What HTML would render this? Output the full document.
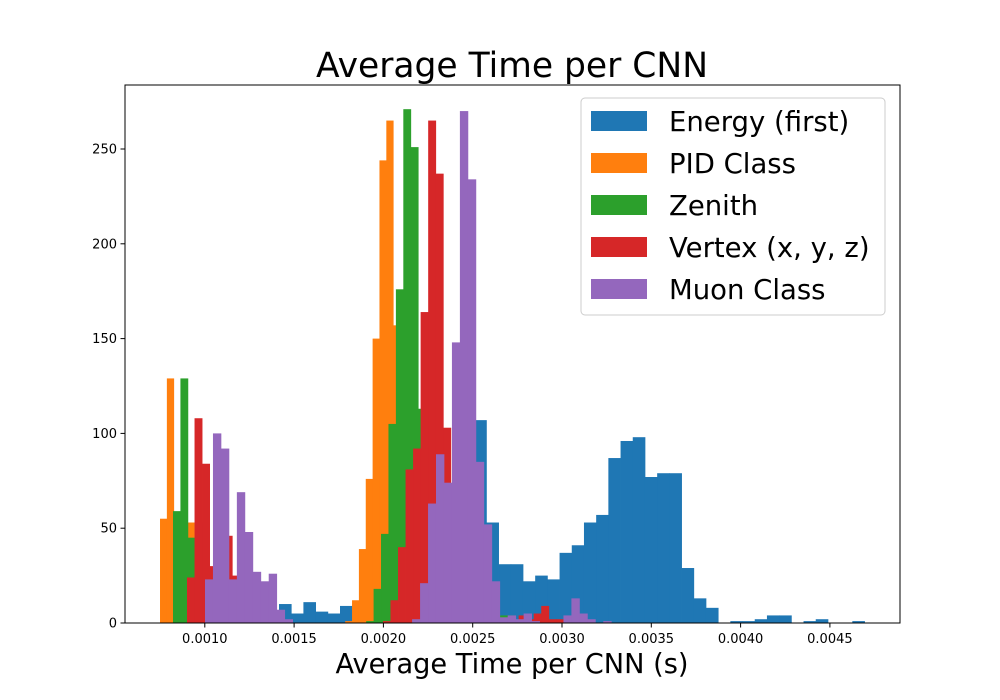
<!DOCTYPE html>
<html><head><meta charset="utf-8"><style>
body{margin:0;background:#fff;}
svg{display:block;font-family:"DejaVu Sans","Liberation Sans",sans-serif;}
</style></head><body>
<svg id="chart" width="1000" height="700">
<text x="512" y="77" text-anchor="middle" font-size="34.5">Average Time per CNN</text>
<g id="bars"></g>
<rect x="125" y="85" width="775" height="538" fill="none" stroke="#000" stroke-width="1"/>
<g id="ticks"></g>
<text x="512" y="673" text-anchor="middle" font-size="27.2">Average Time per CNN (s)</text>
<g id="legend">
<rect x="581" y="98" width="304" height="217" rx="4" fill="#fff" fill-opacity="0.8" stroke="#ccc"/>
</g>
</svg>
<script>
const seriesNames = ["Energy (first)", "PID Class", "Zenith", "Vertex (x, y, z)", "Muon Class"];
const seriesColors = ["#1f77b4", "#ff7f0e", "#2ca02c", "#d62728", "#9467bd"];
const binStarts = [0.0014155, 0.0007492, 0.0008219, 0.0009003, 0.0010011];
const binWidths = [0.0000683, 0.0000384, 0.0000416, 0.0000422, 0.0000446];
const energyCounts = [10,5,11,6,5,9,10,3,2,2,3,5,8,15,30,60,107,53,31,31,22,25,23,37,41,53,57,87,96,98,77,79,79,29,13,8,0,1,1,2,4,4,0,1,2,0,0,1];
const pidCounts = [55,129,45,50,53,20,5,0,0,0,0,0,0,0,0,0,0,0,0,0,0,0,0,0,0,0,0,1,12,39,76,150,244,265,157,90,40,10,2];
const zenithCounts = [59,129,45,53,20,5,0,0,0,0,0,0,0,0,0,0,0,0,0,0,0,0,0,0,0,0,1,18,47,105,176,271,251,113,70,30,10,3,0,0,0,0,0,0,4,4];
const vertexCounts = [24,108,84,30,30,46,25,10,5,3,0,0,0,0,0,0,0,0,0,0,0,0,0,0,0,0,1,12,40,81,92,164,265,237,103,40,15,5,0,0,0,0,0,0,4,2,5,9,2,2];
const muonCounts = [23,100,92,23,69,48,27,22,26,7,2,0,0,0,0,0,0,0,0,0,0,0,0,0,0,0,2,21,63,89,74,148,270,234,85,52,22,3,4,2,5,1,0,0,0,4,13,5,2,0,1];
const allCounts = [energyCounts, pidCounts, zenithCounts, vertexCounts, muonCounts];
const xTicks = [0.0010,0.0015,0.0020,0.0025,0.0030,0.0035,0.0040,0.0045];
const xTickLabels = ["0.0010","0.0015","0.0020","0.0025","0.0030","0.0035","0.0040","0.0045"];
const yTicks = [0,50,100,150,200,250];

const NS = "http://www.w3.org/2000/svg";
function xPx(v){ return 204.8 + (v - 0.001) * 178600; }
function yPx(c){ return 623 - c * 1.896; }

const barsG = document.getElementById("bars");
allCounts.forEach((counts, s) => {
  counts.forEach((c, i) => {
    if (c <= 0) return;
    const x0 = xPx(binStarts[s] + i * binWidths[s]);
    const x1 = xPx(binStarts[s] + (i + 1) * binWidths[s]);
    const r = document.createElementNS(NS, "rect");
    r.setAttribute("x", x0);
    r.setAttribute("width", x1 - x0 + 0.4);
    r.setAttribute("y", yPx(c));
    r.setAttribute("height", 623 - yPx(c));
    r.setAttribute("fill", seriesColors[s]);
    
    
    barsG.appendChild(r);
  });
});

const ticksG = document.getElementById("ticks");
xTicks.forEach((v, i) => {
  const x = xPx(v);
  const l = document.createElementNS(NS, "line");
  l.setAttribute("x1", x); l.setAttribute("x2", x);
  l.setAttribute("y1", 623); l.setAttribute("y2", 627.5);
  l.setAttribute("stroke", "#000");
  
  
  ticksG.appendChild(l);
  const t = document.createElementNS(NS, "text");
  t.setAttribute("x", x); t.setAttribute("y", 643);
  t.setAttribute("text-anchor", "middle"); t.setAttribute("font-size", "13");
  t.textContent = xTickLabels[i];
  
  
  ticksG.appendChild(t);
});
yTicks.forEach(v => {
  const y = yPx(v);
  const l = document.createElementNS(NS, "line");
  l.setAttribute("x1", 120.5); l.setAttribute("x2", 125);
  l.setAttribute("y1", y); l.setAttribute("y2", y);
  l.setAttribute("stroke", "#000");
  
  
  ticksG.appendChild(l);
  const t = document.createElementNS(NS, "text");
  t.setAttribute("x", 117); t.setAttribute("y", y + 4.5);
  t.setAttribute("text-anchor", "end"); t.setAttribute("font-size", "13");
  t.textContent = v;
  
  
  ticksG.appendChild(t);
});

const legG = document.getElementById("legend");
seriesNames.forEach((n, i) => {
  const cy = 121 + i * 42;
  const r = document.createElementNS(NS, "rect");
  r.setAttribute("x", 591); r.setAttribute("y", cy - 10);
  r.setAttribute("width", 56); r.setAttribute("height", 20);
  r.setAttribute("fill", seriesColors[i]);
  
  
  legG.appendChild(r);
  const t = document.createElementNS(NS, "text");
  t.setAttribute("x", 669); t.setAttribute("y", cy + 10);
  t.setAttribute("font-size", "27.5");
  t.textContent = n;
  
  
  legG.appendChild(t);
});
</script>
</body></html>
